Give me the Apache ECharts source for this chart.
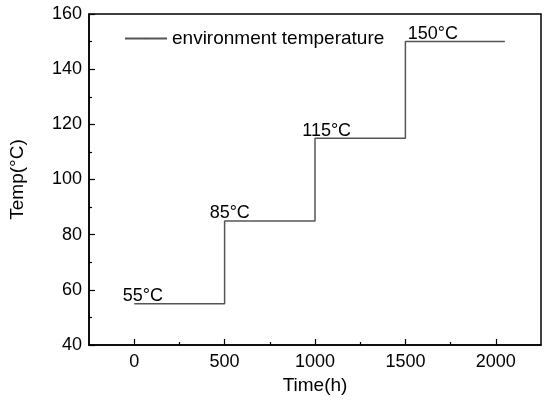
<!DOCTYPE html>
<html>
<head>
<meta charset="utf-8">
<script src="https://cdn.jsdelivr.net/npm/echarts@6/dist/echarts.min.js"></script>
<style>
  html, body { margin: 0; padding: 0; background: #fff; }
  #main { width: 550px; height: 402px; }
</style>
</head>
<body>
<div id="main"></div>
<script>
// step profile of the environment temperature
const timeH = [0, 500, 500, 1000, 1000, 1500, 1500, 2050]
const tempC = [55, 55, 85, 85, 115, 115, 150, 150]

// stage annotations
const stageText = ['55°C', '85°C', '115°C', '150°C']
const stageX = [-60, 420, 932, 1516]
const stageY = [55, 85, 115, 150]

const xMajor = [0, 500, 1000, 1500, 2000]
const xMinor = [250, 750, 1250, 1750]

const font = 'Liberation Sans, Arial, sans-serif'

let chart = echarts.init(document.getElementById('main'))

function lineData () {
  let item = []
  timeH.forEach((t, i) => {
    item.push([t, tempC[i]])
  })
  return item
}

function stageData () {
  let item = []
  stageText.forEach((s, i) => {
    item.push({value: [stageX[i], stageY[i]], name: s})
  })
  return item
}

let option = {
  animation: false,
  backgroundColor: '#fff',
  textStyle: {fontFamily: font, color: '#000'},
  grid: {
    left: 89,
    right: 9,
    top: 14,
    bottom: 57,
    outerBoundsMode: 'none',
    show: true,
    borderColor: '#000',
    borderWidth: 1.5
  },
  legend: {
    left: 119,
    top: 24,
    itemWidth: 42,
    itemHeight: 2,
    itemGap: 5,
    textStyle: {fontFamily: font, fontSize: 19, color: '#000'},
    data: ['environment temperature']
  },
  xAxis: [
    {
      type: 'value',
      min: -250,
      max: 2250,
      name: 'Time(h)',
      nameLocation: 'middle',
      nameGap: 28,
      nameTextStyle: {fontFamily: font, fontSize: 19, color: '#000'},
      splitLine: {show: false},
      axisLine: {onZero: false, lineStyle: {color: '#000', width: 1.5}},
      axisTick: {inside: true, length: 6, customValues: xMajor, lineStyle: {color: '#000', width: 1.2}},
      axisLabel: {customValues: xMajor, margin: 8, fontFamily: font, fontSize: 18, color: '#000', formatter: v => String(v)}
    },
    {
      type: 'value',
      min: -250,
      max: 2250,
      position: 'bottom',
      splitLine: {show: false},
      axisLine: {show: false, onZero: false},
      axisTick: {inside: true, length: 3, customValues: xMinor, lineStyle: {color: '#000', width: 1.2}},
      axisLabel: {show: false}
    }
  ],
  yAxis: {
    type: 'value',
    min: 40,
    max: 160,
    interval: 20,
    name: 'Temp(°C)',
    nameLocation: 'middle',
    nameGap: 62,
    nameTextStyle: {fontFamily: font, fontSize: 19, color: '#000'},
    splitLine: {show: false},
    axisLine: {show: true, onZero: false, lineStyle: {color: '#000', width: 1.5}},
    axisTick: {inside: true, length: 6, lineStyle: {color: '#000', width: 1.2}},
    minorTick: {show: true, splitNumber: 2, length: 3, lineStyle: {color: '#000', width: 1.2}},
    axisLabel: {margin: 7, fontFamily: font, fontSize: 18, color: '#000'}
  },
  series: [
    {
      name: 'environment temperature',
      type: 'line',
      data: lineData(),
      symbol: 'none',
      lineStyle: {color: '#555', width: 1.5},
      itemStyle: {color: '#555'}
    },
    {
      type: 'scatter',
      data: stageData(),
      symbolSize: 1,
      itemStyle: {color: 'rgba(0,0,0,0)', opacity: 1},
      silent: true,
      label: {
        show: true,
        position: [0, 2],
        align: 'left',
        verticalAlign: 'bottom',
        formatter: p => p.name,
        fontFamily: font,
        fontSize: 18,
        color: '#000'
      }
    }
  ]
}

chart.setOption(option)
window.addEventListener('resize', () => {
  chart.resize()
})
</script>
</body>
</html>
